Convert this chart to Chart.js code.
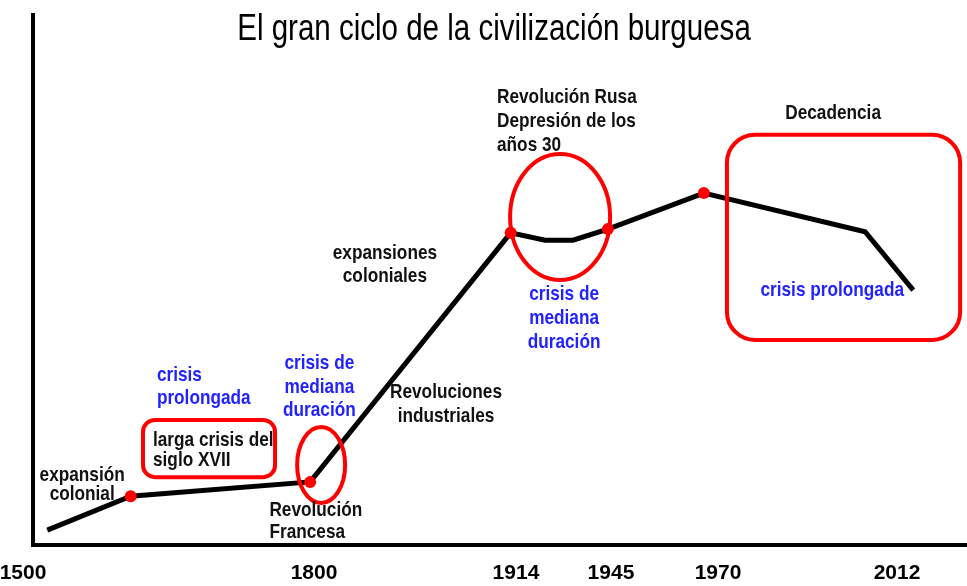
<!DOCTYPE html>
<html>
<head>
<meta charset="utf-8">
<script src="https://cdn.jsdelivr.net/npm/chart.js@4/dist/chart.umd.min.js"></script>
<style>
  html, body { margin: 0; background: #fff; }
  #wrap { width: 967px; height: 586px; }
</style>
</head>
<body>
<div id="wrap"><canvas id="ciclo-chart"></canvas></div>
<script>
// datos
const anios = [1525, 1611, 1796, 1911, 1923.5, 1932.6, 1944, 1966.7, 2004.5, 2015.8];
const nivel = [2.8, 9.2, 11.9, 58.9, 57.5, 57.5, 59.6, 66.4, 59.1, 48.1];
const hito = [false, true, true, true, false, false, true, true, false, false];
const etiquetasEje = [1500, 1800, 1914, 1945, 1970, 2012];

// el eje no es proporcional: cada tramo entre etiquetas tiene su ancho
const fracEje = [-0.0107, 0.3009, 0.5171, 0.6188, 0.7334, 0.9251];

const AZUL = "#2222ff";
const ROJO = "#ff0000";
const FUENTE = "'Liberation Sans', Arial, sans-serif";
const ANGOSTO = 0.82; // la original usa una letra estrecha

const notas = [
  { t: ["expansión", "colonial"], x: 1561, y: 13.2, al: "center", c: "#111", lh: 19 },
  { t: ["crisis", "prolongada"], x: 1638, y: 32.1, al: "left", c: AZUL, lh: 23 },
  { t: ["larga crisis del", "siglo XVII"], x: 1634, y: 19.8, al: "left", c: "#111", lh: 20 },
  { t: ["crisis de", "mediana", "duración"], x: 1803, y: 34.3, al: "center", c: AZUL, lh: 23.5 },
  { t: ["Revolución", "Francesa"], x: 1754, y: 6.6, al: "left", c: "#111", lh: 22 },
  { t: ["expansiones", "coloniales"], x: 1840, y: 55.1, al: "center", c: "#111", lh: 23 },
  { t: ["Revoluciones", "industriales"], x: 1874.5, y: 28.9, al: "center", c: "#111", lh: 24 },
  { t: ["Revolución Rusa", "Depresión de los", "años 30"], x: 1903.3, y: 84.5, al: "left", c: "#111", lh: 24 },
  { t: ["crisis de", "mediana", "duración"], x: 1929.7, y: 47.4, al: "center", c: AZUL, lh: 24 },
  { t: ["Decadencia"], x: 1997, y: 81.5, al: "center", c: "#111", lh: 20 },
  { t: ["crisis prolongada"], x: 1996.8, y: 48.1, al: "center", c: AZUL, lh: 20 },
];

const elipses = [
  { x: 1804, y: 15.1, rx: 24, ry: 38 },
  { x: 1928.4, y: 61.9, rx: 50, ry: 63 },
];
const cajas = [
  { x0: 1623.7, x1: 1759.8, y0: 23.6, y1: 12.8, r: 12 },
  { x0: 1972.1, x1: 2026.8, y0: 77.4, y1: 38.7, r: 28 },
];

class EjeTramos extends Chart.LinearScale {
  getPixelForValue(v) {
    const a = etiquetasEje, f = fracEje;
    let i = 0;
    while (i < a.length - 2 && v > a[i + 1]) i++;
    const t = f[i] + (v - a[i]) / (a[i + 1] - a[i]) * (f[i + 1] - f[i]);
    return this.left + t * this.width;
  }
  getValueForPixel(p) {
    const a = etiquetasEje, f = fracEje;
    const t = (p - this.left) / this.width;
    let i = 0;
    while (i < f.length - 2 && t > f[i + 1]) i++;
    return a[i] + (t - f[i]) / (f[i + 1] - f[i]) * (a[i + 1] - a[i]);
  }
}
EjeTramos.id = "tramos";
EjeTramos.defaults = Chart.LinearScale.defaults;
Chart.register(EjeTramos);

function textoAngosto(ctx, txt, px, py) {
  ctx.save();
  ctx.translate(px, py);
  ctx.scale(ANGOSTO, 1);
  ctx.fillText(txt, 0, 0);
  ctx.restore();
}

const notasPlugin = {
  id: "notas",
  afterDatasetsDraw(chart) {
    const { ctx, scales: { x, y }, chartArea } = chart;
    ctx.save();
    ctx.strokeStyle = ROJO;
    ctx.lineWidth = 4;
    elipses.forEach(e => {
      ctx.beginPath();
      ctx.ellipse(x.getPixelForValue(e.x), y.getPixelForValue(e.y), e.rx, e.ry, 0, 0, Math.PI * 2);
      ctx.stroke();
    });
    cajas.forEach(b => {
      const px0 = x.getPixelForValue(b.x0), px1 = x.getPixelForValue(b.x1);
      const py0 = y.getPixelForValue(b.y0), py1 = y.getPixelForValue(b.y1);
      ctx.beginPath();
      ctx.roundRect(px0, py0, px1 - px0, py1 - py0, b.r);
      ctx.stroke();
    });

    ctx.textBaseline = "middle";
    ctx.font = "bold 21px " + FUENTE;
    notas.forEach(n => {
      ctx.fillStyle = n.c;
      ctx.textAlign = n.al;
      const px = x.getPixelForValue(n.x);
      const py = y.getPixelForValue(n.y);
      n.t.forEach((linea, k) => textoAngosto(ctx, linea, px, py + k * n.lh));
    });

    ctx.fillStyle = "#000";
    ctx.textAlign = "center";
    ctx.font = "36px " + FUENTE;
    textoAngosto(ctx, "El gran ciclo de la civilización burguesa", (chartArea.left + chartArea.right) / 2 - 6, 30);
    ctx.restore();
  }
};

new Chart(document.getElementById("ciclo-chart"), {
  type: "line",
  data: {
    datasets: [{
      data: anios.map((a, i) => ({ x: a, y: nivel[i] })),
      borderColor: "#000",
      borderWidth: 5,
      tension: 0,
      pointRadius: hito.map(h => (h ? 6 : 0)),
      pointBackgroundColor: ROJO,
      pointBorderWidth: 0,
    }],
  },
  plugins: [notasPlugin],
  options: {
    responsive: true,
    maintainAspectRatio: false,
    animation: false,
    events: [],
    layout: { autoPadding: false, padding: { left: 33, top: 15, right: 0, bottom: 0 } },
    plugins: { legend: { display: false }, tooltip: { enabled: false } },
    scales: {
      x: {
        type: "tramos",
        min: 1500,
        max: 2040,
        afterBuildTicks: s => { s.ticks = etiquetasEje.map(v => ({ value: v })); },
        afterFit: s => { s.height = 41; s.paddingLeft = 0; s.paddingRight = 0; },
        grid: { display: false, drawTicks: false },
        border: { display: true, color: "#000", width: 4 },
        ticks: {
          autoSkip: false,
          maxRotation: 0,
          padding: 16,
          color: "#000",
          font: { family: FUENTE, size: 21, weight: "bold" },
          callback: v => String(v),
        },
      },
      y: {
        min: 0,
        max: 100,
        grid: { display: false, drawTicks: false },
        border: { display: true, color: "#000", width: 4 },
        ticks: { display: false },
      },
    },
  },
});
</script>
</body>
</html>
